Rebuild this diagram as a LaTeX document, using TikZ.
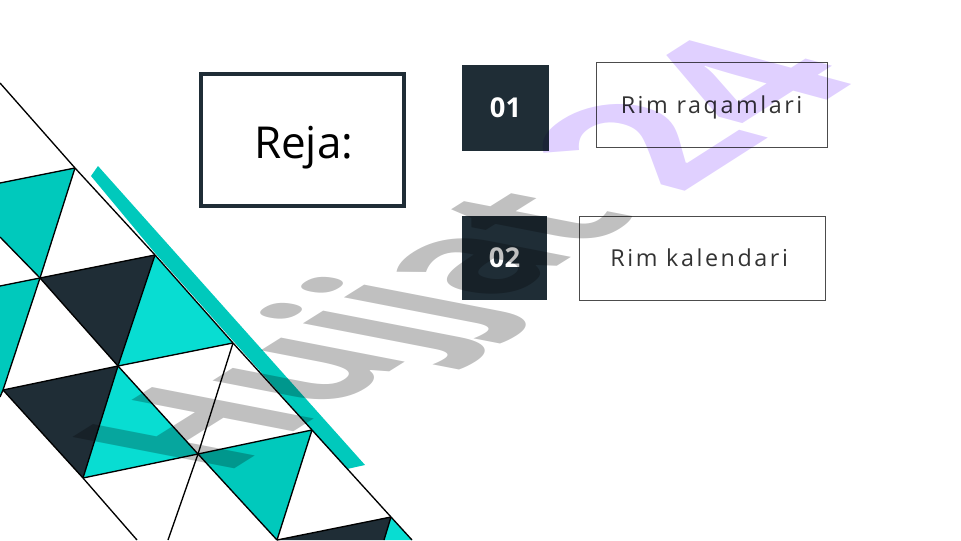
\documentclass[tikz,border=0pt]{standalone}
\usepackage{fontspec}
\setmainfont{Open Sans}
\definecolor{darkbox}{HTML}{1F2D36}
\definecolor{tealmid}{HTML}{00C9BC}
\definecolor{tealbright}{HTML}{08DDD2}
\definecolor{markgrey}{HTML}{C0C0C0}
\definecolor{marklilac}{HTML}{E0D0FF}
\tikzset{
  thinline/.style={line width=1pt,draw=black},
  numbox/.style={fill=darkbox,text=white,font=\fontsize{20.5}{24}\selectfont\bfseries},
  labelbox/.style={draw=black!70,line width=0.75pt,text=black!80,text height=13pt,text depth=0pt},
  spaced/.style={font=\fontsize{17.5}{20}\selectfont\addfontfeatures{LetterSpace=11}}
}
\begin{document}
\begin{tikzpicture}[x=0.75pt,y=-0.75pt]
\useasboundingbox (0,0) rectangle (961,540);
\clip (0,0) rectangle (961,540);
% lattice points
\coordinate (p1) at (75,168);
\coordinate (p2) at (40,278);
\coordinate (p3) at (155,255);
\coordinate (p4) at (233,343);
\coordinate (p5) at (118,366);
\coordinate (p6) at (3,390);
\coordinate (p7) at (83,478);
\coordinate (p8) at (198,454);
\coordinate (p9) at (312,430);
\coordinate (p10) at (277,540);
\coordinate (p11) at (391,517);
% band and triangles
\fill[tealmid] (98,166) -- (91,176) -- (155,253) -- (347,469) -- (365,465) -- cycle;
\fill[tealmid] (0,183) -- (p1) -- (p2) -- (0,237) -- cycle;
\fill[tealmid] (0,286) -- (p2) -- (p6) -- (0,397) -- cycle;
\fill[darkbox] (p2) -- (p3) -- (p5) -- cycle;
\fill[tealbright] (p3) -- (p4) -- (p5) -- cycle;
\fill[darkbox] (p6) -- (p5) -- (p7) -- cycle;
\fill[tealbright] (p5) -- (p8) -- (p7) -- cycle;
\fill[tealmid] (p8) -- (p9) -- (p10) -- cycle;
\fill[darkbox] (p10) -- (p11) -- (384,540) -- cycle;
\fill[tealbright] (p11) -- (412,540) -- (384,540) -- cycle;
% lattice lines
\draw[thinline] (0,83) -- (p1) -- (p3) -- (p4) -- (p9) -- (p11) -- (412,540);
\draw[thinline] (0,237) -- (p2) -- (p5) -- (p8) -- (p10);
\draw[thinline] (p6) -- (p7) -- (137,540);
\draw[thinline] (p1) -- (p2) -- (p6) -- (0,397);
\draw[thinline] (p3) -- (p5) -- (p7);
\draw[thinline] (p4) -- (p8) -- (168,540);
\draw[thinline] (p9) -- (p10);
\draw[thinline] (p11) -- (384,540);
\draw[thinline] (0,183) -- (p1);
\draw[thinline] (0,286) -- (p2) -- (p3);
\draw[thinline] (p6) -- (p5) -- (p4);
\draw[thinline] (p7) -- (p8) -- (p9);
\draw[thinline] (p10) -- (p11);
% title and boxes
\node[draw=darkbox,line width=3pt,minimum width=152.5pt,minimum height=99pt,text height=28pt,text depth=0pt,
  font=\fontsize{33}{38}\selectfont] (title) at (302.3,139.5) {\hspace{2pt}Reja:};
\node[numbox,minimum width=65.25pt,minimum height=64.5pt,inner sep=0pt] (num1) at (505.5,108) {\raisebox{-1.5pt}{01}};
\node[numbox,minimum width=63.75pt,minimum height=63pt,inner sep=0pt] (num2) at (504.5,258) {\raisebox{-1.5pt}{02}};
\node[labelbox,spaced,minimum width=173.25pt,minimum height=63.75pt,inner sep=0pt] (item1) at (711.6,104.5) {Rim raqamlari};
\node[labelbox,spaced,minimum width=184.5pt,minimum height=63pt,inner sep=0pt] (item2) at (702.2,258) {\hspace{-4.5pt}Rim kalendari};
% watermark
\begin{scope}[blend mode=multiply]
\begin{scope}[cm={10.2,6.4,-17,3.3,(220,478)},transform shape]
\node[anchor=base west,inner sep=0pt,text=markgrey,font=\fontsize{10}{12}\selectfont\bfseries] (mark1) at (0,0) {Hujjat};
\end{scope}
\begin{scope}[cm={12.5,8,-17,4.6,(675,198)},transform shape]
\node[anchor=base west,inner sep=0pt,text=marklilac,font=\fontsize{10}{12}\selectfont\bfseries] (mark2) at (0,0) {24};
\end{scope}
\end{scope}
\end{tikzpicture}
\end{document}
